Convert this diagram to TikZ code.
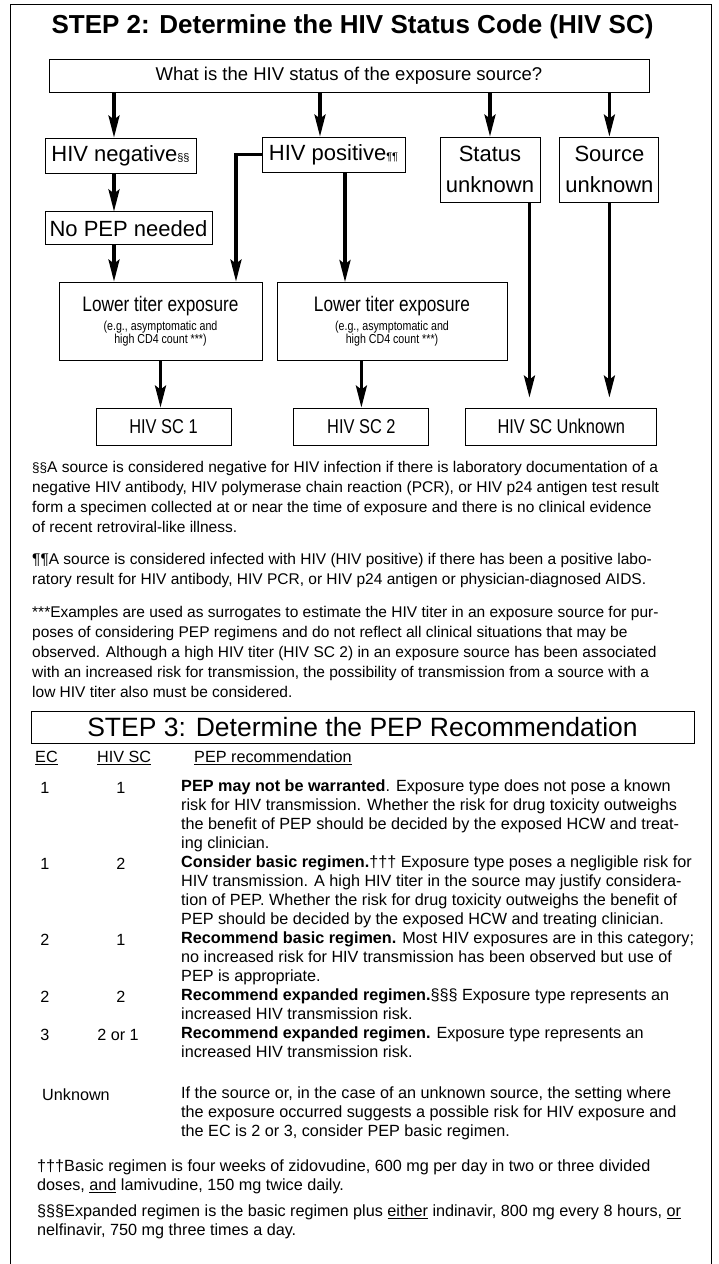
\documentclass[tikz,border=0pt]{standalone}
\usepackage{fontspec}
\setmainfont{Liberation Sans}
\newfontfamily\narrowsf{Liberation Sans}[FakeStretch=0.82]
\usetikzlibrary{arrows.meta,positioning}

\newcommand{\fnsize}{\fontsize{15.5}{20}\selectfont}
\newcommand{\tabsize}{\fontsize{16.2}{19}\selectfont}
\newcommand{\titerhead}{\fontsize{21}{24}\selectfont}
\newcommand{\titersmall}{\fontsize{13}{16}\selectfont}

\begin{document}
\begin{tikzpicture}[
  x=1pt, y=-1pt,
  box/.style={draw, line width=0.9pt, inner sep=0pt, align=center},
  lbl/.style={box, font=\fontsize{22}{31}\selectfont},
  titer/.style={box, minimum height=78pt, font=\narrowsf},
  sc/.style={box, minimum width=135pt, minimum height=37pt, font=\narrowsf\fontsize{20}{24}\selectfont},
  arr/.style={line width=3.3pt, -{Stealth[length=22pt,width=11pt,inset=4pt]}},
  fn/.style={anchor=north west, inner sep=0pt, align=left, font=\fnsize, execute at begin node=\strut},
  cell/.style={anchor=north west, inner sep=0pt, align=left, font=\tabsize, execute at begin node=\strut},
  num/.style={cell, anchor=north}
]
\useasboundingbox (0,0) rectangle (719,1264);
\draw[line width=0.9pt] (10,1270) -- (10,4.5) -- (711,4.5) -- (711,1270);

% step 2
\node[anchor=west, font=\fontsize{26}{30}\selectfont\bfseries] (title) at (48,26.5) {STEP 2: Determine the HIV Status Code (HIV SC)};
\node[box, minimum width=600pt, minimum height=33pt, font=\fontsize{18.5}{22}\selectfont] (q) at (349,75.5) {What is the HIV status of the exposure source?};

\node[lbl, minimum width=151pt, minimum height=35pt] (neg) at (120.5,155.5) {HIV negative{\fontsize{11}{11}\selectfont §§}};
\node[lbl, minimum width=167pt, minimum height=33pt, below right=38pt and 0pt of neg.south west] (nopep) {No PEP needed};
\node[lbl, minimum width=143pt, minimum height=35pt] (pos) at (333.5,154.5) {HIV positive{\fontsize{11}{11}\selectfont ¶¶}};
\node[lbl, minimum width=100pt, minimum height=65pt] (stat) at (490,169.5) {Status\\unknown};
\node[lbl, minimum width=99pt, minimum height=65pt, right=19pt of stat] (src) {Source\\unknown};

\node[titer, minimum width=203pt] (low1) at (160.5,321) {\titerhead Lower titer exposure\\[4pt]\titersmall (e.g., asymptomatic and\\\titersmall high CD4 count ***)};
\node[titer, minimum width=230pt] (low2) at (392,321.5) {\titerhead Lower titer exposure\\[4pt]\titersmall (e.g., asymptomatic and\\\titersmall high CD4 count ***)};

\node[sc] (sc1) at (163.5,426.5) {HIV SC 1};
\node[sc, right=62pt of sc1] (sc2) {HIV SC 2};
\node[sc, minimum width=191pt, right=36pt of sc2] (scu) {HIV SC Unknown};

% arrow columns
\coordinate (c1) at (114,0);
\coordinate (c2) at (320,0);
\coordinate (c3) at (345,0);
\coordinate (c4) at (236,0);

\draw[arr] (q.south -| c1) -- (neg.north -| c1);
\draw[arr] (q.south -| c2) -- (pos.north -| c2);
\draw[arr] (q.south -| stat) -- (stat);
\draw[arr] (q.south -| src) -- (src);
\draw[arr] (neg.south -| c1) -- (nopep.north -| c1);
\draw[arr] (nopep.south -| c1) -- (low1.north -| c1);
\draw[arr] (pos.west) -| (low1.north -| c4);
\draw[arr] (pos.south -| c3) -- (low2.north -| c3);
\draw[arr] (low1.south) -- (low1.south |- sc1.north);
\draw[arr] (low2.south -| sc2) -- (sc2);
\draw[arr, shorten >=10pt] ([xshift=-11pt]stat.south east) -- ([xshift=-11pt]stat.south east |- scu.north);
\draw[arr, shorten >=10pt] (src.south) -- (src.south |- scu.north);

% footnotes
\node[fn] (fnneg) at (32,461) {{\fontsize{13.5}{13.5}\selectfont §§}A source is considered negative for HIV infection if there is laboratory documentation of a\\negative HIV antibody, HIV polymerase chain reaction (PCR), or HIV p24 antigen test result\\form a specimen collected at or near the time of exposure and there is no clinical evidence\\of recent retroviral-like illness.};
\node[fn] (fnpos) at (32,553.5) {¶¶A source is considered infected with HIV (HIV positive) if there has been a positive labo-\\ratory result for HIV antibody, HIV PCR, or HIV p24 antigen or physician-diagnosed AIDS.};
\node[fn] (fnstar) at (32,606) {***Examples are used as surrogates to estimate the HIV titer in an exposure source for pur-\\poses of considering PEP regimens and do not reflect all clinical situations that may be\\observed. Although a high HIV titer (HIV SC 2) in an exposure source has been associated\\with an increased risk for transmission, the possibility of transmission from a source with a\\low HIV titer also must be considered.};

% step 3
\node[box, minimum width=663pt, minimum height=32pt, font=\fontsize{26.5}{30}\selectfont] (step3) at (362.5,727) {STEP 3: Determine the PEP Recommendation};

\node[cell] (hec) at (35,749) {\underline{EC}};
\node[cell] (hsc) at (97,749) {\underline{HIV SC}};
\node[cell] (hrec) at (194,749) {\underline{PEP recommendation}};

\node[num] (ec1) at (45,780) {1};
\node[num] (hs1) at (121,780) {1};
\node[cell] (rec1) at (181,780) {\textbf{PEP may not be warranted}. Exposure type does not pose a known\\risk for HIV transmission. Whether the risk for drug toxicity outweighs\\the benefit of PEP should be decided by the exposed HCW and treat-\\ing clinician.};

\node[num] (ec2) at (45,856) {1};
\node[num] (hs2) at (121,856) {2};
\node[cell] (rec2) at (181,856) {\textbf{Consider basic regimen.}††† Exposure type poses a negligible risk for\\HIV transmission. A high HIV titer in the source may justify considera-\\tion of PEP. Whether the risk for drug toxicity outweighs the benefit of\\PEP should be decided by the exposed HCW and treating clinician.};

\node[num] (ec3) at (45,932) {2};
\node[num] (hs3) at (121,932) {1};
\node[cell] (rec3) at (181,932) {\textbf{Recommend basic regimen.} Most HIV exposures are in this category;\\no increased risk for HIV transmission has been observed but use of\\PEP is appropriate.};

\node[num] (ec4) at (45,989) {2};
\node[num] (hs4) at (121,989) {2};
\node[cell] (rec4) at (181,989) {\textbf{Recommend expanded regimen.}§§§ Exposure type represents an\\increased HIV transmission risk.};

\node[num] (ec5) at (45,1027) {3};
\node[num] (hs5) at (118,1027) {2 or 1};
\node[cell] (rec5) at (181,1027) {\textbf{Recommend expanded regimen.} Exposure type represents an\\increased HIV transmission risk.};

\node[cell] (ecu) at (42,1087) {Unknown};
\node[cell] (recu) at (181,1087) {If the source or, in the case of an unknown source, the setting where\\the exposure occurred suggests a possible risk for HIV exposure and\\the EC is 2 or 3, consider PEP basic regimen.};

\node[cell] (fnbasic) at (37,1160) {†††Basic regimen is four weeks of zidovudine, 600 mg per day in two or three divided\\doses, \underline{and} lamivudine, 150 mg twice daily.};
\node[cell] (fnexp) at (37,1205) {§§§Expanded regimen is the basic regimen plus \underline{either} indinavir, 800 mg every 8 hours, \underline{or}\\nelfinavir, 750 mg three times a day.};
\end{tikzpicture}
\end{document}
